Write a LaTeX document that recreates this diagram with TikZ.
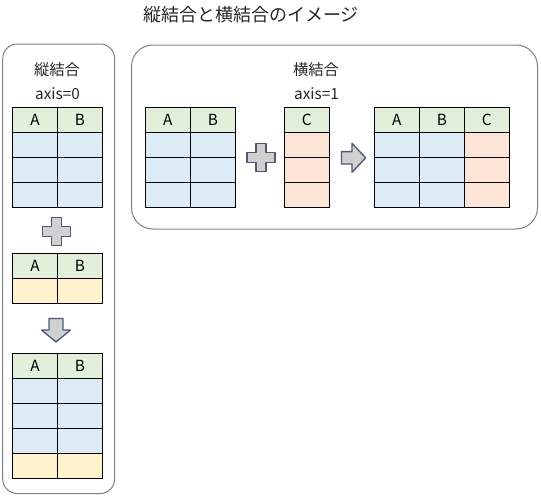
\documentclass[tikz,border=0pt]{standalone}
\usepackage{fontspec}
\setmainfont{Noto Sans CJK JP}
\definecolor{hdrgreen}{HTML}{E2EFDA}
\definecolor{rowblue}{HTML}{DDEBF7}
\definecolor{rowyellow}{HTML}{FFF2CC}
\definecolor{rowpeach}{HTML}{FCE4D6}
\definecolor{boxgray}{HTML}{808080}
\definecolor{shpfill}{HTML}{D0D0D0}
\definecolor{shpline}{HTML}{4D5B70}
\tikzset{
  cell/.style={draw, line width=0.75pt, minimum width=33.75pt, minimum height=18.75pt,
    inner sep=0pt, font=\fontsize{11.5}{11.5}\selectfont},
  hdr/.style={cell, fill=hdrgreen},
  blu/.style={cell, fill=rowblue},
  yel/.style={cell, fill=rowyellow},
  pch/.style={cell, fill=rowpeach},
  panel/.style={draw=boxgray, line width=0.75pt, rounded corners=#1},
  lbl/.style={inner sep=0pt, text=black!85, font=\fontsize{11.5}{11.5}\selectfont},
  shp/.style={fill=shpfill, draw=shpline, line width=1pt, line join=round}
}
\begin{document}
\begin{tikzpicture}[x=0.75pt, y=-0.75pt]
    \useasboundingbox (0,0) rectangle (541,500);
    \node[lbl, font=\fontsize{13.5}{13.5}\selectfont] (ttl) at (251,15) {縦結合と横結合のイメージ};
    % 縦結合 axis=0
    \draw[panel=11pt] (2.7,44) rectangle (114.7,493.5);
    \node[lbl] (vttl) at (57,70) {縦結合};
    \node[lbl] (vax) at (57.5,93.5) {axis=0};
    \foreach \c/\x in {A/35,B/80} {
        \node[hdr] (v\c) at (\x,119.8) {\c};
        \foreach \r/\y in {1/144.8,2/169.8,3/194.8}
            \node[blu] (v\c\r) at (\x,\y) {};
        \node[hdr] (w\c) at (\x,265.8) {\c};
        \node[yel] (w\c1) at (\x,290.8) {};
        \node[hdr] (s\c) at (\x,365.8) {\c};
        \foreach \r/\y in {1/390.8,2/415.8,3/440.8}
            \node[blu] (s\c\r) at (\x,\y) {};
        \node[yel] (s\c4) at (\x,465.8) {};
    }
    \draw[shp, shift={(56.5,231.5)}] (-5,-14) -- (5,-14) -- (5,-5) -- (14,-5) -- (14,5) -- (5,5)
        -- (5,14) -- (-5,14) -- (-5,5) -- (-14,5) -- (-14,-5) -- (-5,-5) -- cycle;
    \draw[shp, shift={(56,318.5)}] (-7,0) -- (7,0) -- (7,11.5) -- (14.5,11.5) -- (0,23.5)
        -- (-14.5,11.5) -- (-7,11.5) -- cycle;
    % 横結合 axis=1
    \draw[panel=16pt] (131.5,45) rectangle (537.5,229);
    \node[lbl] (httl) at (316,70) {横結合};
    \node[lbl] (hax) at (316.5,93.5) {axis=1};
    \foreach \c/\x in {A/167.8,B/212.8} {
        \node[hdr] (h\c) at (\x,119.8) {\c};
        \foreach \r/\y in {1/144.8,2/169.8,3/194.8}
            \node[blu] (h\c\r) at (\x,\y) {};
    }
    \node[hdr] (hC) at (306.8,119.8) {C};
    \foreach \r/\y in {1/144.8,2/169.8,3/194.8}
        \node[pch] (hC\r) at (306.8,\y) {};
    \foreach \c/\x/\s in {A/396.8/blu,B/441.8/blu,C/486.8/pch} {
        \node[hdr] (r\c) at (\x,119.8) {\c};
        \foreach \r/\y in {1/144.8,2/169.8,3/194.8}
            \node[\s] (r\c\r) at (\x,\y) {};
    }
    \draw[shp, shift={(261,157.2)}] (-5,-14) -- (5,-14) -- (5,-5) -- (14,-5) -- (14,5) -- (5,5)
        -- (5,14) -- (-5,14) -- (-5,5) -- (-14,5) -- (-14,-5) -- (-5,-5) -- cycle;
    \draw[shp, shift={(341.5,157.8)}] (0,-6.2) -- (10.5,-6.2) -- (10.5,-14.5) -- (24.2,0)
        -- (10.5,14.5) -- (10.5,6.2) -- (0,6.2) -- cycle;
\end{tikzpicture}
\end{document}
